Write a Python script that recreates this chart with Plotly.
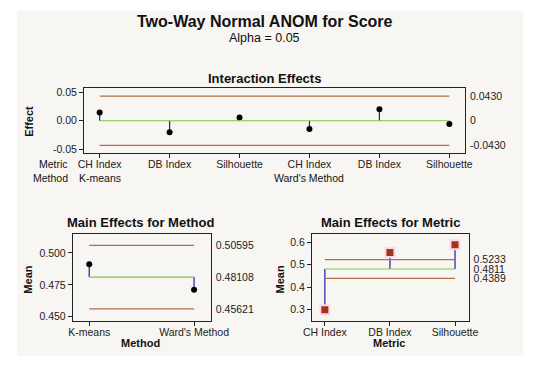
import plotly.graph_objects as go

# The page body adds an 8px offset, so the figure is drawn 8px smaller and
# all pixel positions below are given in the reference picture's coordinates.
OFF = 8
W, H = 550 - OFF, 371 - OFF

# ---------------- data ----------------
metrics = ["CH Index", "DB Index", "Silhouette"]
methods = ["K-means", "Ward's Method"]

# interaction effects, order: K-means CH, DB, Sil, Ward CH, DB, Sil
inter_labels = metrics + metrics
inter_effects = [0.0145, -0.0200, 0.0055, -0.0145, 0.0200, -0.0055]
inter_center = 0.0
inter_udl = 0.0430
inter_ldl = -0.0430
inter_right_text = ["0.0430", "0", "-0.0430"]
inter_yticks = [-0.05, 0.0, 0.05]
inter_yticktext = ["-0.05", "0.00", "0.05"]

method_means = [0.4911, 0.4711]
method_center = 0.48108
method_udl = 0.50595
method_ldl = 0.45621
method_right_text = ["0.50595", "0.48108", "0.45621"]
method_yticks = [0.45, 0.475, 0.5]
method_yticktext = ["0.450", "0.475", "0.500"]

metric_means = [0.298, 0.555, 0.590]
metric_center = 0.4811
metric_udl = 0.5233
metric_ldl = 0.4389
metric_right_text = ["0.5233", "0.4811", "0.4389"]
metric_yticks = [0.3, 0.4, 0.5, 0.6]
metric_yticktext = ["0.3", "0.4", "0.5", "0.6"]

# ---------------- styling ----------------
FONT = "Liberation Sans, Arial, sans-serif"
LIMIT_C = "rgb(178,112,72)"
CENTER_C = "rgb(122,200,70)"
STEM_C = "rgb(30,30,170)"
BG = "#f8f6f2"

def px(x):
    return (x - OFF) / W

def py(y):
    return 1 - (y - OFF) / H

fig = go.Figure()

def add_panel(xa, ya, ya2, xs, vals, center, udl, ldl, marker):
    x0, x1 = xs[0], xs[-1]
    for lv in (udl, ldl):
        fig.add_trace(go.Scatter(x=[x0, x1], y=[lv, lv], mode="lines",
                                 line=dict(color=LIMIT_C, width=1.2),
                                 xaxis=xa, yaxis=ya2, hoverinfo="skip", showlegend=False))
    fig.add_trace(go.Scatter(x=[x0, x1], y=[center, center], mode="lines",
                             line=dict(color=CENTER_C, width=1.2),
                             xaxis=xa, yaxis=ya2, hoverinfo="skip", showlegend=False))
    sx, sy = [], []
    for xv, v in zip(xs, vals):
        sx += [xv, xv, None]
        sy += [center, v, None]
    fig.add_trace(go.Scatter(x=sx, y=sy, mode="lines", line=dict(color=STEM_C, width=1.2),
                             xaxis=xa, yaxis=ya, hoverinfo="skip", showlegend=False))
    if marker == "square":
        fig.add_trace(go.Scatter(x=xs, y=vals, mode="markers",
                                 marker=dict(symbol="square", size=11, color="rgb(255,214,238)"),
                                 xaxis=xa, yaxis=ya, showlegend=False, hoverinfo="skip"))
        fig.add_trace(go.Scatter(x=xs, y=vals, mode="markers",
                                 marker=dict(symbol="square", size=7, color="rgb(160,55,20)"),
                                 xaxis=xa, yaxis=ya, showlegend=False))
    else:
        fig.add_trace(go.Scatter(x=xs, y=vals, mode="markers",
                                 marker=dict(symbol="circle", size=6, color="black"),
                                 xaxis=xa, yaxis=ya, showlegend=False))

top_x = list(range(1, len(inter_effects) + 1))
bl_x = list(range(1, len(method_means) + 1))
br_x = list(range(1, len(metric_means) + 1))

add_panel("x", "y", "y2", top_x, inter_effects, inter_center, inter_udl, inter_ldl, "circle")
add_panel("x3", "y3", "y4", bl_x, method_means, method_center, method_udl, method_ldl, "circle")
add_panel("x5", "y5", "y6", br_x, metric_means, metric_center, metric_udl, metric_ldl, "square")

tickfont = dict(family=FONT, size=10.5, color="#222")
axcommon = dict(showline=True, linecolor="#222", linewidth=1, mirror=True, showgrid=False,
                zeroline=False, ticks="outside", ticklen=4, tickcolor="#222", tickwidth=1,
                tickfont=tickfont, fixedrange=True)
xcommon = dict(axcommon, ticklabelstandoff=-3)
rightcommon = dict(showline=False, showgrid=False, zeroline=False, ticks="", side="right",
                   tickfont=tickfont, ticklabelstandoff=4, fixedrange=True)

top_dom_x = [px(78.5), px(479.5)]
top_dom_y = [py(152), py(86.5)]
bl_dom_x = [px(66.7), px(212)]
br_dom_x = [px(318.3), px(483.3)]
bot_dom_y = [py(322.3), py(234.3)]

top_yr = [-0.0565, 0.0566]
bl_yr = [0.4467, 0.5147]
br_yr = [0.2472, 0.6377]

fig.update_layout(
    width=W, height=H,
    margin=dict(l=0, r=0, t=0, b=0),
    paper_bgcolor="white",
    plot_bgcolor="white",
    showlegend=False,
    font=dict(family=FONT, color="#111"),
    xaxis=dict(xcommon, domain=top_dom_x, range=[0.776, 6.224], anchor="y",
               tickvals=top_x, ticktext=inter_labels),
    yaxis=dict(axcommon, domain=top_dom_y, range=top_yr, anchor="x",
               tickvals=inter_yticks, ticktext=inter_yticktext),
    yaxis2=dict(rightcommon, overlaying="y", anchor="x", range=top_yr,
                tickvals=[inter_udl, inter_center, inter_ldl], ticktext=inter_right_text),
    xaxis3=dict(xcommon, domain=bl_dom_x, range=[0.843, 2.16], anchor="y3",
                tickvals=bl_x, ticktext=methods),
    yaxis3=dict(axcommon, domain=bot_dom_y, range=bl_yr, anchor="x3",
                tickvals=method_yticks, ticktext=method_yticktext),
    yaxis4=dict(rightcommon, overlaying="y3", anchor="x3", range=bl_yr,
                tickvals=[method_udl, method_center, method_ldl], ticktext=method_right_text),
    xaxis5=dict(xcommon, domain=br_dom_x, range=[0.8, 3.209], anchor="y5",
                tickvals=br_x, ticktext=metrics),
    yaxis5=dict(axcommon, domain=bot_dom_y, range=br_yr, anchor="x5",
                tickvals=metric_yticks, ticktext=metric_yticktext),
    yaxis6=dict(rightcommon, overlaying="y5", anchor="x5", range=br_yr,
                tickvals=[metric_udl, metric_center, metric_ldl], ticktext=metric_right_text),
)

fig.add_shape(type="rect", xref="paper", yref="paper", x0=0, x1=px(541), y0=py(358), y1=1,
              fillcolor=BG, line=dict(width=0), layer="below")

def ann(text, x, y, size, bold=False, xanchor="center", textangle=0, xref="paper"):
    fig.add_annotation(text=f"<b>{text}</b>" if bold else text, x=x, y=y, xref=xref, yref="paper",
                       xanchor=xanchor, yanchor="middle", showarrow=False, textangle=textangle,
                       font=dict(family=FONT, size=size, color="#111"))

ann("Two-Way Normal ANOM for Score", px(269.5), py(18.5), 16, bold=True)
ann("Alpha = 0.05", px(269), py(35.5), 12.5)
ann("Interaction Effects", px(269), py(76), 13, bold=True)
ann("Effect", px(21), py(120), 11, bold=True, textangle=-90)
ann("Metric", px(64), py(163.5), 10.5, xanchor="right")
ann("Method", px(64), py(177), 10.5, xanchor="right")
ann(methods[0], 1, py(177), 10.5, xref="x")
ann(methods[1], 4, py(177), 10.5, xref="x")
ann("Main Effects for Method", px(137.5), py(222.7), 13, bold=True)
ann("Main Effects for Metric", px(400.7), py(222.7), 13, bold=True)
ann("Method", px(138), py(344.5), 11, bold=True)
ann("Metric", px(400), py(344.5), 11, bold=True)
ann("Mean", px(20), py(280), 11, bold=True, textangle=-90)
ann("Mean", px(285), py(280), 11, bold=True, textangle=-90)

fig.write_html("out.html")
